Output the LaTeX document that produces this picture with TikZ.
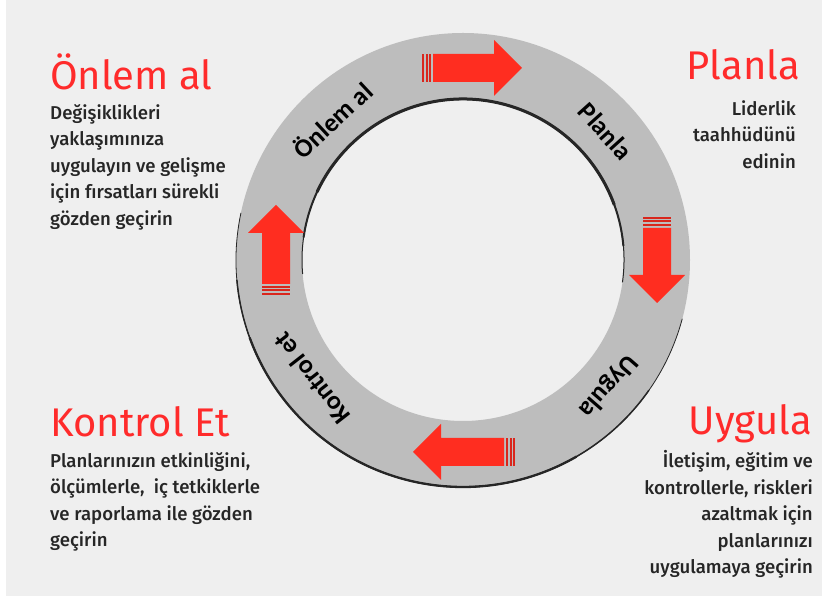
\documentclass[tikz,border=0pt]{standalone}
\usepackage{fontspec}
\setmainfont{Fira Sans}
\newfontfamily\bodyfont{Fira Sans}[UprightFont={* Medium}]
\newfontfamily\ringfont{Carlito}
\definecolor{backgray}{HTML}{EFEFEF}
\definecolor{ringgray}{HTML}{BDBDBD}
\definecolor{ringedge}{HTML}{262626}
\definecolor{headred}{HTML}{FF2B2B}
\definecolor{arrowred}{HTML}{FF2D20}
\definecolor{stripered}{HTML}{D9261C}
\definecolor{bodygray}{HTML}{262626}
% straight red arrow of the cycle: centre, angle, half length
\newcommand{\cyclearrow}[3]{%
	\begin{scope}[shift={#1},rotate=#2]
		\fill[arrowred] (-#3+11,-14) -- (#3-28,-14) -- (#3-28,-28) -- (#3,0) -- (#3-28,28) -- (#3-28,14) -- (-#3+11,14) -- cycle;
		\foreach \s in {0,3.5,7} \fill[stripered] (-#3+\s,-14) rectangle ++(2,28);
	\end{scope}}
\begin{document}
\begin{tikzpicture}[x=1pt,y=1pt,
		heading/.style={text=headred,font=\fontsize{40}{44}\selectfont,inner sep=0pt},
		body/.style={text=bodygray,font=\bodyfont\fontsize{18.6}{26.5}\selectfont,inner sep=0pt},
		ringlabel/.style={text=black,font=\ringfont\bfseries\fontsize{26}{26}\selectfont,inner sep=0pt}]
	\useasboundingbox (0,0) rectangle (822,596);
	\fill[white] (0,0) rectangle (822,596);
	\fill[backgray] (6,0) rectangle (822,596);
	% ring
	\coordinate (ctr) at (463,336);
	\fill[ringgray,even odd rule] (ctr) circle (227) (ctr) circle (161);
	% shadow edges, thicker in the middle
	\foreach \w/\s/\e in {0.8/168/345,1.5/185/325,2.3/200/300}
		\draw[ringedge,line width=\w pt] ([shift={(\s:227)}]ctr) arc (\s:\e:227);
	\foreach \w/\s/\e in {1/-8/185,2/5/172,3/20/155}
		\draw[ringedge,line width=\w pt] ([shift={(\s:161)}]ctr) arc (\s:\e:161);
	\foreach \a/\t in {133/{Önlem al},42/{Planla},-41/{Uygula},218/{Kontrol et}}
		\node[ringlabel,rotate=\a-90] at ([shift={(\a:192)}]ctr) {\t};
	% arrows
	\cyclearrow{(472,528)}{0}{50}
	\cyclearrow{(657,336)}{-90}{43}
	\cyclearrow{(464,144)}{180}{51}
	\cyclearrow{(276,346)}{90}{45}
	% texts
	\node[heading,anchor=base west] (onlem) at (50,506) {Önlem al};
	\node[body,anchor=north west,align=left] (onlemtxt) at (50,492) {Değişiklikleri\\yaklaşımınıza\\uygulayın ve gelişme\\için fırsatları sürekli\\gözden geçirin};
	\node[heading,anchor=base east] (planla) at (800,516) {Planla};
	\node[body,anchor=north east,align=right] (planlatxt) at (796,496) {Liderlik\\taahhüdünü\\edinin};
	\node[heading,anchor=base west] (kontrol) at (50,159) {Kontrol Et};
	\node[body,anchor=north west,align=left] (kontroltxt) at (50,144) {Planlarınızın etkinliğini,\\ölçümlerle,\ \ iç tetkiklerle\\ve raporlama ile gözden\\geçirin};
	\node[heading,anchor=base east] (uygula) at (812,161) {Uygula};
	\node[body,anchor=north east,align=right] (uygulatxt) at (813,145.5) {İletişim, eğitim ve\\kontrollerle, riskleri\\azaltmak için\\planlarınızı\\uygulamaya geçirin};
\end{tikzpicture}
\end{document}
